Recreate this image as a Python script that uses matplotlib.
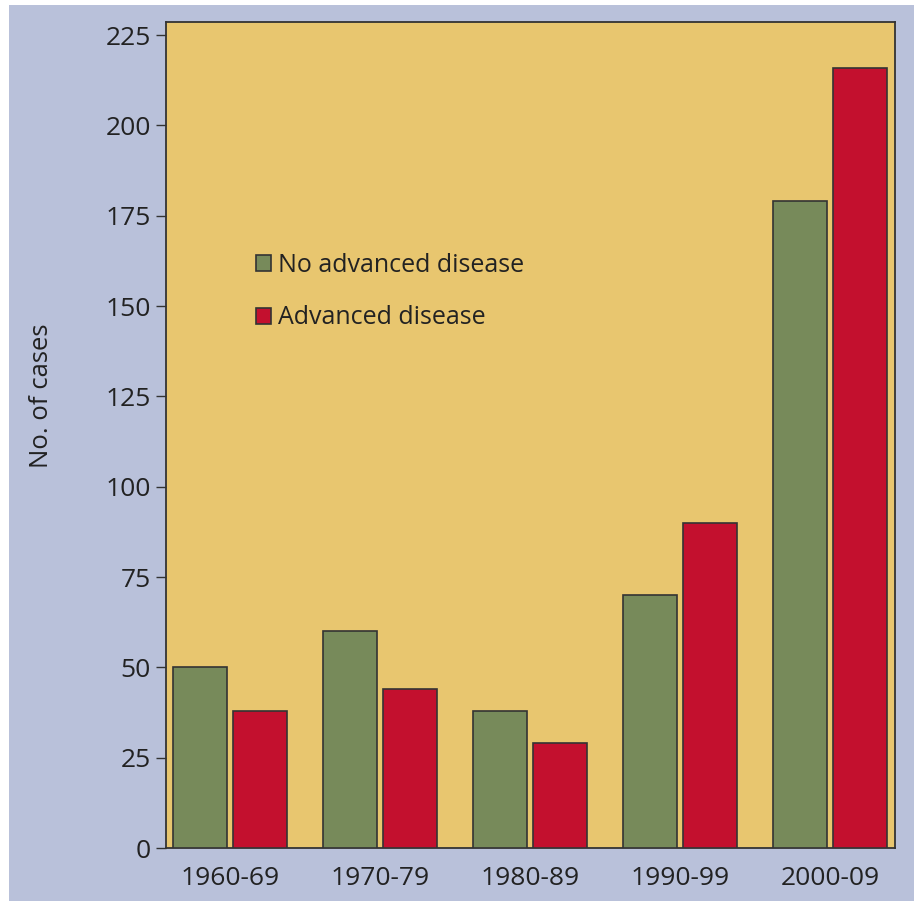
import matplotlib
matplotlib.use("Agg")
import matplotlib.pyplot as plt
import numpy as np
from matplotlib.patches import Rectangle

categories = ["1960-69", "1970-79", "1980-89", "1990-99", "2000-09"]
no_advanced = [50, 60, 38, 70, 179]
advanced = [38, 44, 29, 90, 216]
yticks = [0, 25, 50, 75, 100, 125, 150, 175, 200, 225]

plt.rcParams['font.family'] = ['Open Sans', 'DejaVu Sans']

W, H = 918, 901
fig = plt.figure(figsize=(W/100, H/100), dpi=100, facecolor='white')
fig.patches.append(Rectangle((9/W, 0), (914-9)/W, (H-5)/H, transform=fig.transFigure,
                             facecolor='#b9c1da', edgecolor='none', zorder=-10))
ax = fig.add_axes([166/W, 1-848/H, (895-166)/W, (848-22)/H])
ax.set_facecolor('#e8c66f')

x = np.arange(len(categories))
w = 0.36
ax.bar(x - 0.2, no_advanced, w, color='#778a5a', edgecolor='#333333', linewidth=1.2,
       label='No advanced disease', zorder=3)
ax.bar(x + 0.2, advanced, w, color='#c3102e', edgecolor='#333333', linewidth=1.2,
       label='Advanced disease', zorder=3)

ax.set_xlim(-0.427, 4.433)
ax.set_ylim(0, 228.6)
ax.set_yticks(yticks)
ax.set_xticks(x)
ax.set_xticklabels(categories)
ax.tick_params(axis='y', length=7, width=1, color='#333333', labelsize=19, labelcolor='#222222', pad=4)
ax.tick_params(axis='x', length=0, labelsize=19, labelcolor='#222222', pad=13)
for s in ax.spines.values():
    s.set_color('#333333')
    s.set_linewidth(1.3)

ax.set_ylabel('No. of cases', fontsize=18.5, color='#222222')
ax.yaxis.set_label_coords((54-166)/729, (848-396)/826)

leg = ax.legend(loc='upper left', bbox_to_anchor=(80/729, 1-(243-22)/826), frameon=False,
                fontsize=18, handlelength=0.6, handleheight=0.6, handletextpad=0.3,
                labelspacing=1.1, borderaxespad=0, labelcolor='#222222')

fig.savefig('out.png', dpi=100, facecolor=fig.get_facecolor())
